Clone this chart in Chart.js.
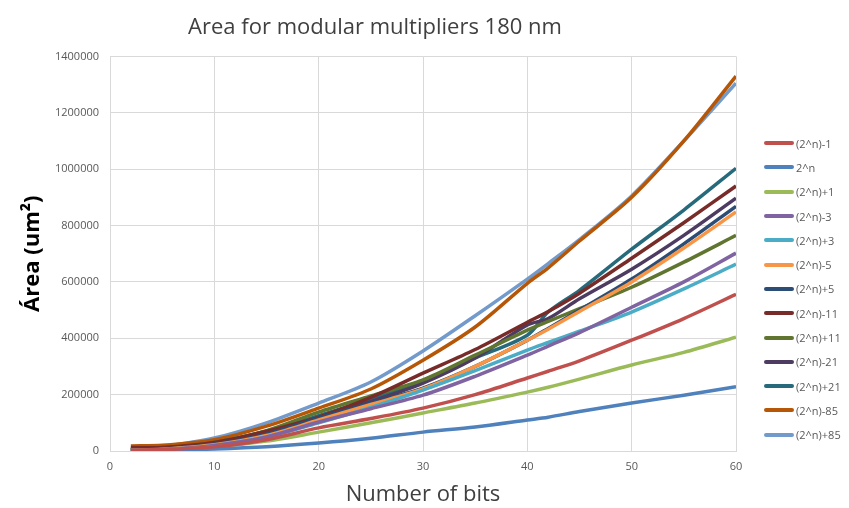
<!DOCTYPE html>
<html>
<head>
<meta charset="utf-8">
<script src="https://cdn.jsdelivr.net/npm/chart.js@4.4.1/dist/chart.umd.min.js"></script>
<style>
    html, body { margin: 0; padding: 0; background: #fff; }
    #wrap { position: relative; width: 849px; height: 508px; }
    #legend { position: absolute; left: 764px; top: 131px; font-family: 'Open Sans', sans-serif; font-size: 11px; color: #595959; }
    .item { height: 24.3px; display: flex; align-items: center; margin: 0; }
    .swatch { width: 30px; height: 4px; border-radius: 2px; margin-right: 2px; }
</style>
</head>
<body>
<div id="wrap">
    <canvas id="areaChart" width="849" height="508"></canvas>
    <div id="legend"></div>
</div>
<script>
// bits (x axis)
const bits = [2, 5, 10, 15, 20, 25, 30, 35, 40, 42, 45, 50, 55, 60];

// area values (um^2)
const m1   = [3000, 5000, 15000, 40000, 82000, 115000, 152000, 200000, 259000, 283000, 320000, 393000, 470000, 556000];
const p0   = [0, 2000, 7000, 15000, 28000, 45000, 67000, 85000, 110000, 120000, 140000, 170000, 198000, 228000];
const p1   = [2000, 4000, 14000, 35000, 67000, 100000, 135000, 170000, 209000, 226000, 255000, 305000, 350000, 404000];
const m3   = [3000, 5000, 20000, 50000, 103000, 150000, 198000, 265000, 340000, 372000, 420000, 510000, 600000, 702000];
const p3   = [3000, 5000, 20000, 50000, 100000, 155000, 216000, 285000, 358000, 385000, 425000, 493000, 575000, 663000];
const m5   = [3000, 6000, 22000, 55000, 110000, 165000, 220000, 300000, 393000, 432000, 495000, 600000, 720000, 848000];
const p5   = [3000, 6000, 24000, 60000, 117000, 170000, 223000, 300000, 393000, 435000, 500000, 610000, 735000, 868000];
const m11  = [12000, 12000, 30000, 70000, 120000, 190000, 276000, 360000, 457000, 495000, 560000, 684000, 810000, 940000];
const p11  = [5000, 8000, 30000, 72000, 138000, 195000, 252000, 340000, 429000, 460000, 505000, 581000, 670000, 765000];
const m21  = [5000, 8000, 28000, 66000, 115000, 175000, 241000, 330000, 447000, 470000, 540000, 645000, 765000, 897000];
const p21  = [5000, 8000, 30000, 70000, 125000, 185000, 250000, 330000, 411000, 493000, 570000, 716000, 855000, 1003000];
const m85  = [18000, 20000, 40000, 88000, 152000, 220000, 322000, 440000, 595000, 650000, 745000, 900000, 1100000, 1330000];
const p85  = [5000, 15000, 46000, 100000, 170000, 245000, 355000, 480000, 610000, 665000, 750000, 905000, 1100000, 1305000];

const names = ['(2^n)-1', '2^n', '(2^n)+1', '(2^n)-3', '(2^n)+3', '(2^n)-5', '(2^n)+5',
    '(2^n)-11', '(2^n)+11', '(2^n)-21', '(2^n)+21', '(2^n)-85', '(2^n)+85'];
const series = [m1, p0, p1, m3, p3, m5, p5, m11, p11, m21, p21, m85, p85];
const colors = ['#c0504d', '#4f81bd', '#9bbb59', '#8064a2', '#4bacc6', '#f79646', '#2c4d75',
    '#772c2a', '#5f7530', '#4d3b62', '#276a7c', '#b65708', '#729aca'];

const datasets = series.map((vals, i) => ({
    label: names[i],
    data: vals.map((v, j) => ({ x: bits[j], y: v })),
    borderColor: colors[i],
    backgroundColor: colors[i],
    borderWidth: 3.5,
    pointRadius: 0,
    tension: 0.3,
    fill: false
}));

new Chart(document.getElementById('areaChart').getContext('2d'), {
    type: 'line',
    data: { datasets: datasets },
    options: {
        responsive: false,
        animation: false,
        layout: { padding: { left: 14, right: 113, top: 0, bottom: 0 } },
        plugins: {
            legend: { display: false },
            tooltip: { enabled: false },
            title: {
                display: true,
                text: 'Area for modular multipliers 180 nm',
                color: '#404040',
                font: { size: 22, family: "'Open Sans', sans-serif", weight: 'normal' },
                padding: { top: 15, bottom: 15 }
            }
        },
        scales: {
            x: {
                type: 'linear',
                min: 0,
                max: 60,
                grid: { color: '#d9d9d9', drawTicks: false },
                border: { color: '#d9d9d9' },
                ticks: {
                    stepSize: 10,
                    padding: 9,
                    color: '#595959',
                    font: { size: 11, family: "'Open Sans', sans-serif" }
                },
                title: {
                    display: true,
                    text: 'Number of bits',
                    color: '#404040',
                    font: { size: 22, family: "'Open Sans', sans-serif" },
                    padding: { top: 0, bottom: 0 }
                },
                afterFit: function (scale) { scale.height = 57; }
            },
            y: {
                min: 0,
                max: 1400000,
                grid: { color: '#d9d9d9', drawTicks: false },
                border: { color: '#d9d9d9' },
                ticks: {
                    stepSize: 200000,
                    padding: 11,
                    color: '#595959',
                    font: { size: 11, family: "'Open Sans', sans-serif" },
                    callback: function (v) { return String(v); }
                },
                title: {
                    display: true,
                    text: 'Área (um²)',
                    color: '#000',
                    font: { size: 22, family: "'Open Sans', sans-serif", weight: 'bold' },
                    padding: { top: 6, bottom: 0 }
                },
                afterFit: function (scale) { scale.width = 96; }
            }
        }
    }
});

// legend (HTML, same order and colours as the datasets)
const legend = document.getElementById('legend');
names.forEach((n, i) => {
    const row = document.createElement('div');
    row.className = 'item';
    row.innerHTML = '<span class="swatch" style="background:' + colors[i] + '"></span><span>' + n + '</span>';
    legend.appendChild(row);
});
</script>
</body>
</html>
